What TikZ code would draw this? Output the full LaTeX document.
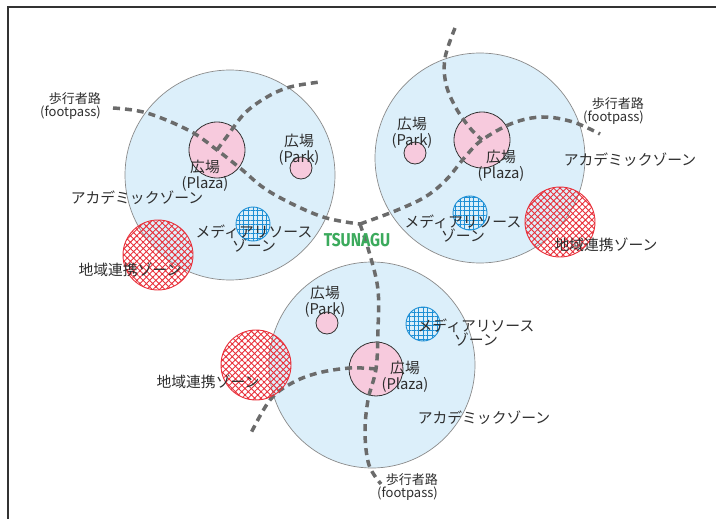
\documentclass[tikz,border=0pt]{standalone}
\usepackage{fontspec}
\usepackage{graphicx}
\newfontfamily\jp{Noto Sans CJK JP}
\newfontfamily\tsfont{Fira Sans}
\usetikzlibrary{patterns.meta}
\definecolor{zonefill}{HTML}{DCEFFA}
\definecolor{zoneedge}{HTML}{8A8A8A}
\definecolor{plazafill}{HTML}{F7CADD}
\definecolor{pathgray}{HTML}{6B6B6B}
\definecolor{hatchred}{HTML}{E8303A}
\definecolor{hatchblue}{HTML}{1E8FD5}
\definecolor{txt}{HTML}{2E2E2E}
\definecolor{tsgreen}{HTML}{3BAA5C}
\definecolor{framec}{HTML}{333333}
\tikzset{
  zone/.style={circle, draw=zoneedge, line width=0.7pt, fill=zonefill, inner sep=0pt},
  plaza/.style={circle, draw=framec, line width=0.8pt, fill=plazafill, inner sep=0pt},
  redzone/.style={circle, draw=hatchred, line width=0.9pt, inner sep=0pt, minimum size=70pt,
     pattern={Hatch[angle=45,distance=4.5pt,line width=0.9pt]}, pattern color=hatchred},
  bluezone/.style={circle, draw=hatchblue, line width=0.9pt, inner sep=0pt, minimum size=34pt,
     pattern={Hatch[angle=0,distance=4.6pt,line width=0.9pt]}, pattern color=hatchblue},
  foot/.style={draw=pathgray, line width=3.5pt, dash pattern=on 7pt off 5pt},
  lbl/.style={font=\jp\fontsize{14.8}{14.8}\selectfont, text=txt, inner sep=0pt, align=center},
  twolbl/.style={font=\jp\fontsize{14.8}{16}\selectfont, text=txt, inner sep=0pt, align=center},
  medlbl/.style={font=\jp\fontsize{14.8}{14}\selectfont, text=txt, inner sep=0pt, align=center},
  footlbl/.style={font=\jp\fontsize{13}{13}\selectfont, text=txt, inner sep=0pt, align=right},
  frame/.style={draw=framec, line width=1.5pt}
}
\begin{document}
\begin{tikzpicture}[x=1pt,y=-1pt]
\useasboundingbox (0,0) rectangle (716,519);
% frame
\coordinate (F1) at (8,519);
\coordinate (F2) at (8,7);
\coordinate (F3) at (716,7);
\draw[frame] (F1) -- (F2) -- (F3);

% big zones
\node[zone, minimum size=210pt] (zL) at (230,175) {};
\node[zone, minimum size=210pt] (zR) at (480,158) {};
\node[zone, minimum size=206pt] (zB) at (372,365) {};

% plazas and parks
\node[plaza, minimum size=56pt] (pL) at (217,150) {};
\node[plaza, minimum size=56pt] (pR) at (482,140) {};
\node[plaza, minimum size=54pt] (pB) at (376,369) {};
\node[plaza, minimum size=22pt] (kL) at (301,168) {};
\node[plaza, minimum size=22pt] (kR) at (415,153) {};
\node[plaza, minimum size=22pt] (kB) at (327,323) {};

% footpath end points
\coordinate (J) at (360,224);
\coordinate (fL) at (113,108);
\coordinate (fR) at (600,134);
\coordinate (fB) at (381,484);
\coordinate (eL) at (320,82);
\coordinate (eR) at (455,28);
\coordinate (eB) at (250,435);

% footpaths
\draw[foot] plot[smooth, tension=0.6] coordinates {(fL) (147,113) (190,131) (pL.center) (240,168) (270,192) (320,216) (J)};
\draw[foot] plot[smooth, tension=0.6] coordinates {(J) (395,211) (425,197) (446,180) (465,157) (pR.center) (513,123) (543,117) (573,122) (fR)};
\draw[foot] plot[smooth, tension=0.6] coordinates {(pL.center) (228,135) (245,113) (267,97) (290,87) (eL)};
\draw[foot] plot[smooth, tension=0.6] coordinates {(eR) (445,58) (446,84) (456,108) (470,128) (pR.center)};
\draw[foot] plot[smooth, tension=0.6] coordinates {(J) (370,255) (378,290) (378,330) (pB.center) (368,400) (365,433) (369,465) (fB)};
\draw[foot] plot[smooth, tension=0.6] coordinates {(pB.center) (350,368) (318,373) (292,383) (270,400) (eB)};

% hatched zones
\node[redzone] (rL) at (158,255) {};
\node[redzone] (rR) at (560,222) {};
\node[redzone] (rB) at (256,365) {};
\node[bluezone] (bL) at (253,224) {};
\node[bluezone] (bR) at (470,213) {};
\node[bluezone] (bB) at (423,324) {};

% labels, left cluster
\node[footlbl, anchor=east] (tfL) at (101,106) {歩行者路\\(footpass)};
\node[twolbl] (tpL) at (205,176) {広場\\(Plaza)};
\node[twolbl] (tkL) at (299,150) {広場\\(Park)};
\node[lbl] (taL) at (137,198) {アカデミックゾーン};
\node[medlbl] (tmL) at (254,239) {メディアリソース\\ゾーン};
\node[lbl] (trL) at (130,270) {地域連携ゾーン};

% labels, right cluster
\node[footlbl, anchor=east] (tfR) at (644,111) {歩行者路\\(footpass)};
\node[twolbl] (tpR) at (501,166) {広場\\(Plaza)};
\node[twolbl] (tkR) at (412,133) {広場\\(Park)};
\node[lbl] (taR) at (630,160) {アカデミックゾーン};
\node[medlbl] (tmR) at (463,229) {メディアリソース\\ゾーン};
\node[lbl] (trR) at (606,245) {地域連携ゾーン};

% labels, bottom cluster
\node[footlbl, anchor=east] (tfB) at (438,487) {歩行者路\\(footpass)};
\node[twolbl] (tpB) at (405,377) {広場\\(Plaza)};
\node[twolbl] (tkB) at (325,302) {広場\\(Park)};
\node[lbl] (taB) at (484,418) {アカデミックゾーン};
\node[medlbl] (tmB) at (476,333) {メディアリソース\\ゾーン};
\node[lbl] (trB) at (208,382) {地域連携ゾーン};

% TSUNAGU
\node[font=\tsfont\bfseries\fontsize{15.5}{15.5}\selectfont, text=tsgreen, inner sep=0pt] (ts) at (357,240) {\scalebox{1}[1.2]{TSUNAGU}};
\end{tikzpicture}
\end{document}
